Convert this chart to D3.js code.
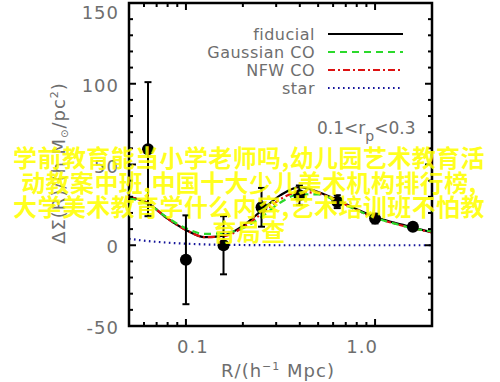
<!DOCTYPE html>
<html><head><meta charset="utf-8">
<script src="https://cdn.jsdelivr.net/npm/d3@7"></script>
<style>body{margin:0;background:#fff}svg{display:block}</style>
</head><body>
<svg id="c" width="500" height="382"></svg>
<script>
// ---- data ----
const modelR   = [0.05, 0.063, 0.08, 0.1, 0.126, 0.158, 0.2, 0.251, 0.316, 0.398, 0.5, 0.631, 0.794, 1.0, 1.26, 1.585, 2.0];
const fiducial = [30, 26, 16.5, 9.5, 5, 6, 12, 21.5, 31, 36, 33, 28, 22.5, 17.5, 14, 11, 8];
const gaussCO  = [29, 25.5, 17, 10.5, 7, 7.5, 10.5, 17.5, 26.5, 31.5, 31.5, 27, 22, 17, 13.5, 10.5, 8.5];
const nfwCO    = [30, 26, 16.5, 9.5, 5, 5.5, 11, 19.5, 28.5, 33, 32, 27.5, 22, 17, 13.5, 10.5, 8];
const star     = [4, 2.6, 1.6, 1, 0.5, 0.3, 0.15, 0.05, 0, 0, 0, 0, 0, 0, 0, 0, 0];
const obsR     = [0.063, 0.1, 0.158, 0.251, 0.398, 0.631, 1.0, 1.585];
const obsVal   = [59.5, -9, 0, 23.5, 31, 27, 16.5, 11.5];
const obsErr   = [41.5, 27.5, 18, 12, 6, 4, 3, 2];
const legendLabels = ["fiducial", "Gaussian CO", "NFW CO", "star"];
const yMajorTicks = [-50, 0, 50, 100, 150];
const xMajorTicks = [0.1, 1.0];
const xTickLabels = ["0.1", "1.0"];
const overlayLines = ["学前教育能当小学老师吗,幼儿园艺术教育活", "动教案中班,中国十大少儿美术机构排行榜,", "大学美术教育学什么内容,艺术培训班不怕教", "育局查"];

// ---- layout ----
const svg = d3.select("#c");
const X0 = 129, X1 = 432, Y0 = 3, Y1 = 326;
const x = d3.scaleLog().domain([0.05, 2]).range([X0, X1]);
const y = d3.scaleLinear().domain([-50, 150]).range([Y1, Y0]);
const grey = "#6e6e6e";
const font = "DejaVu Sans, sans-serif";

const series = [
  {vals: fiducial, color: "#000", dash: null, w: 2.2},
  {vals: gaussCO, color: "#2bd92b", dash: "7,5", w: 2.2},
  {vals: nfwCO, color: "#dd1111", dash: "7,3,2,3", w: 2.2},
  {vals: star, color: "#14149a", dash: "1.6,3.4", w: 2.2}
];

const line = vals => d3.line().x((d, i) => x(modelR[i])).y(d => y(d)).curve(d3.curveMonotoneX)(vals);
const plot = svg.append("g");
[3, 0, 2, 1].forEach(k => {
  const s = series[k];
  plot.append("path").attr("d", line(s.vals)).attr("fill", "none")
    .attr("stroke", s.color).attr("stroke-width", s.w)
    .attr("stroke-dasharray", s.dash);
});

// error bars + points
const pts = svg.append("g");
obsR.forEach((r, i) => {
  const cx = x(r), v = obsVal[i], e = obsErr[i];
  pts.append("line").attr("x1", cx).attr("x2", cx).attr("y1", y(v - e)).attr("y2", y(v + e))
    .attr("stroke", "#000").attr("stroke-width", 2);
  [v - e, v + e].forEach(t => pts.append("line").attr("x1", cx - 3.5).attr("x2", cx + 3.5)
    .attr("y1", y(t)).attr("y2", y(t)).attr("stroke", "#000").attr("stroke-width", 2));
  pts.append("circle").attr("cx", cx).attr("cy", y(v)).attr("r", 6).attr("fill", "#000");
});

// frame
svg.append("rect").attr("x", X0).attr("y", Y0).attr("width", X1 - X0).attr("height", Y1 - Y0)
  .attr("fill", "none").attr("stroke", "#000").attr("stroke-width", 2.5);

// ticks
const tk = svg.append("g").attr("stroke", "#000").attr("stroke-width", 2);
d3.range(-50, 151, 10).forEach(v => {
  const L = v % 50 === 0 ? 7 : 4, yy = y(v);
  tk.append("line").attr("x1", X0).attr("x2", X0 + L).attr("y1", yy).attr("y2", yy);
  tk.append("line").attr("x1", X1).attr("x2", X1 - L).attr("y1", yy).attr("y2", yy);
});
const xMinor = x.ticks(20).filter(t => t > 0.05 && t < 2);
xMinor.forEach(t => {
  const major = xMajorTicks.some(m => Math.abs(m - t) < 1e-9);
  const L = major ? 7 : 4, xx = x(t);
  tk.append("line").attr("x1", xx).attr("x2", xx).attr("y1", Y1).attr("y2", Y1 - L);
  tk.append("line").attr("x1", xx).attr("x2", xx).attr("y1", Y0).attr("y2", Y0 + L);
});

// tick labels
const lab = svg.append("g").attr("font-family", font).attr("font-size", 18).attr("fill", grey);
yMajorTicks.forEach(v => {
  lab.append("text").attr("x", 119).attr("y", Math.max(y(v), 11) + 8).attr("text-anchor", "end")
    .attr("letter-spacing", 1).text(v);
});
const xLabDx = [7, -13];
xMajorTicks.forEach((t, i) => {
  lab.append("text").attr("x", x(t) + xLabDx[i]).attr("y", 353).attr("text-anchor", "middle")
    .attr("letter-spacing", 1).text(xTickLabels[i]);
});

// axis titles
const xt = lab.append("text").attr("x", 278).attr("y", 377).attr("text-anchor", "middle").attr("letter-spacing", 1);
xt.append("tspan").text("R/(h");
xt.append("tspan").attr("dy", -7).attr("font-size", 11).text("−1");
xt.append("tspan").attr("dy", 7).text(" Mpc)");

const yt = lab.append("text").attr("transform", "translate(65,163) rotate(-90)").attr("text-anchor", "middle").attr("letter-spacing", 1);
yt.append("tspan").text("ΔΣ(R)/(h M");
yt.append("tspan").attr("dy", 3).attr("font-size", 10).text("⊙");
yt.append("tspan").attr("dy", -3).text("/pc");
yt.append("tspan").attr("dy", -7).attr("font-size", 11).text("2");
yt.append("tspan").attr("dy", 7).text(")");

// legend
const lg = svg.append("g");
legendLabels.forEach((name, i) => {
  const yy = 34 + i * 18;
  lg.append("text").attr("x", 315).attr("y", yy + 6).attr("text-anchor", "end")
    .attr("font-family", font).attr("font-size", 16).attr("fill", grey).attr("letter-spacing", 0.5).text(name);
  const s = series[i];
  lg.append("line").attr("x1", 328).attr("x2", 403).attr("y1", yy).attr("y2", yy)
    .attr("stroke", s.color).attr("stroke-width", s.w).attr("stroke-dasharray", s.dash);
});

// annotation
const an = lab.append("text").attr("x", 317).attr("y", 134).attr("font-size", 17);
an.append("tspan").text("0.1<r");
an.append("tspan").attr("dy", 7).attr("font-size", 14).text("p");
an.append("tspan").attr("dy", -7).text("<0.3");

// overlay text
const ov = svg.append("g").attr("font-family", "Noto Sans CJK SC, sans-serif").attr("font-size", 24)
  .attr("font-weight", 700).attr("fill", "#ffff00").attr("fill-opacity", 0.88).attr("text-anchor", "middle");
overlayLines.forEach((t, i) => {
  ov.append("text").attr("x", 249).attr("y", 167 + i * 24.7).attr("letter-spacing", 0.4).text(t);
});
</script>
</body></html>
